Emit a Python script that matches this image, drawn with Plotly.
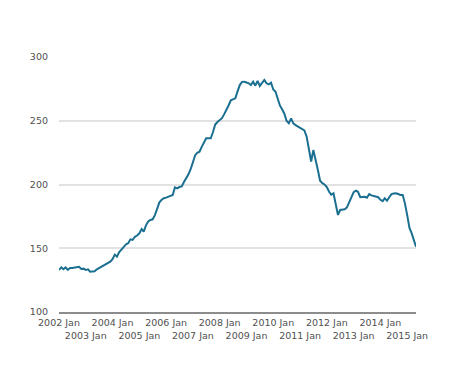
import plotly.graph_objects as go

# Monthly values, 2002 Jan .. 2015 May
v2002 = [133, 135, 133.5, 135, 133, 134.5, 134.5, 135, 135.5, 135.5, 133.7, 134]
v2003 = [133, 133.5, 131.6, 131.8, 132, 133.5, 134.5, 135.5, 136.5, 137.5, 138.2, 139.5]
v2004 = [141.5, 145, 143.4, 147, 149, 151, 153, 154, 157, 156.5, 159, 160]
v2005 = [161.7, 165, 163, 168, 171, 172.2, 172.7, 176, 182, 186, 188, 189.2]
v2006 = [189.7, 190.4, 191, 191.8, 197.8, 197, 198, 198.5, 202, 204.8, 208, 212]
v2007 = [218, 223, 224.8, 225.7, 229.5, 233, 236.2, 236.2, 236.2, 241, 247, 249]
v2008 = [250.5, 252, 255, 258, 262, 266, 267, 267.6, 273, 278, 280.5, 280.6]
v2009 = [280, 279.4, 278, 280.6, 277.5, 281.2, 277.3, 279.9, 282, 279.4, 278.5, 279.9]
v2010 = [274.5, 272.8, 268, 262, 259, 255.5, 250, 248, 251.9, 248, 246.5, 245.5]
v2011 = [244.1, 243.5, 242.5, 237.5, 227, 218, 227, 220, 211.4, 203, 201, 200]
v2012 = [198, 194.3, 192, 193.1, 185.2, 176.1, 180, 180.3, 180.5, 182, 186, 191]
v2013 = [194, 195.1, 194.3, 190, 190.2, 190.4, 189.6, 192.5, 191.5, 190.9, 190.5, 190]
v2014 = [188, 187, 189.2, 187.3, 190, 192.5, 193, 193.1, 192.5, 191.8, 191.8, 185.2]
v2015 = [176, 166, 162, 157, 151.2]

values = (v2002 + v2003 + v2004 + v2005 + v2006 + v2007 + v2008 + v2009 +
          v2010 + v2011 + v2012 + v2013 + v2014 + v2015)

years = list(range(2002, 2016))
dates = []
for y in years:
    for m in range(1, 13):
        dates.append(f"{y}-{m:02d}-01")
dates = dates[:len(values)]

tick_vals = [f"{y}-01-01" for y in years]
tick_text = [(f"{y} Jan" if (y - 2002) % 2 == 0 else f"<br>{y} Jan") for y in years]

y_ticks = [100, 150, 200, 250, 300]

fig = go.Figure()
fig.add_trace(go.Scatter(
    x=dates, y=values, mode="lines",
    line=dict(color="#1b6f90", width=2),
    hoverinfo="skip",
))

font = dict(family="DejaVu Sans, Verdana, sans-serif", size=9.5, color="#505050")

# page body has an 8px default margin, so the figure is sized to fit inside it
fig.update_layout(
    width=455, height=369,
    margin=dict(l=51, r=47, t=49, b=65),
    paper_bgcolor="white", plot_bgcolor="white",
    showlegend=False,
    font=font,
    xaxis=dict(
        type="date",
        range=[dates[0], dates[-1]],
        tickvals=tick_vals, ticktext=tick_text, tickangle=0,
        showgrid=False, zeroline=False,
        showline=True, linecolor="#8c8c8c", linewidth=1.5,
        ticks="", ticklabelstandoff=1, tickfont=font,
    ),
    yaxis=dict(
        range=[100, 300],
        tickvals=y_ticks,
        showgrid=True, gridcolor="#e2e2e2", gridwidth=2,
        zeroline=False, showline=False,
        ticks="", ticklabelstandoff=10, tickfont=font,
    ),
)

fig.write_html("out.html", config={"displayModeBar": False})
